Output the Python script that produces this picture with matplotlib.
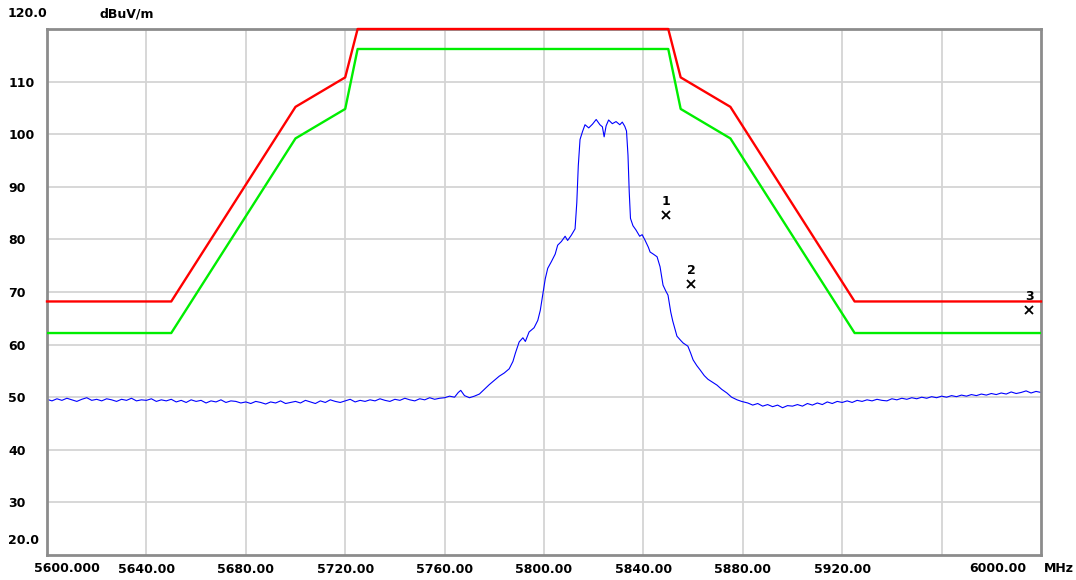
import numpy as np
import matplotlib
matplotlib.use("Agg")
import matplotlib.pyplot as plt
import matplotlib.transforms as mtransforms

# limit lines (dBuV/m)
limit_freq = [5600, 5650, 5700, 5720, 5725, 5850, 5855, 5875, 5925, 6000]
limit_peak = [68.2, 68.2, 105.2, 110.8, 122.2, 122.2, 110.8, 105.2, 68.2, 68.2]
limit_avg = [62.2, 62.2, 99.2, 104.8, 116.2, 116.2, 104.8, 99.2, 62.2, 62.2]

# measured trace, low side noise floor (2 MHz steps from 5600)
left_floor = [49.6, 49.3, 49.7, 49.4, 49.8, 49.5, 49.2, 49.6, 49.9, 49.4,
              49.6, 49.3, 49.7, 49.5, 49.2, 49.6, 49.4, 49.8, 49.3, 49.5,
              49.4, 49.7, 49.2, 49.5, 49.3, 49.6, 49.1, 49.4, 49.0, 49.5,
              49.2, 49.4, 48.9, 49.3, 49.1, 49.5, 49.0, 49.3, 49.2, 48.9,
              49.1, 48.8, 49.2, 49.0, 48.7, 49.1, 48.9, 49.3, 48.8, 49.0,
              49.2, 48.9, 49.4, 49.1, 48.8, 49.3, 49.0, 49.5, 49.2, 49.0,
              49.3, 49.6, 49.1, 49.4, 49.2, 49.5, 49.3, 49.7, 49.4, 49.2,
              49.6, 49.4, 49.8, 49.5, 49.3, 49.7, 49.5, 49.9, 49.6]

# measured trace, signal region
sig_freq = [5758, 5760, 5762, 5764, 5765.5, 5766.5, 5768, 5770, 5772, 5774,
            5776, 5778, 5780, 5782, 5784, 5786, 5787.5, 5788.5, 5790, 5791.5,
            5792.5, 5794, 5796, 5797.5, 5798.5, 5799.5, 5800.5, 5801.5, 5803, 5804.5,
            5805.5, 5807, 5808.5, 5809.5, 5811, 5812.5, 5813.2, 5813.8, 5814.5, 5815.5,
            5816.5, 5818, 5819.5, 5821, 5822.5, 5823.5, 5824.2, 5825, 5826, 5827.5,
            5829, 5830.5, 5831.5, 5832.5, 5833.2, 5833.8, 5834.3, 5834.8, 5835.8, 5837,
            5838.5, 5839.5, 5840.6, 5842, 5842.7, 5844, 5845.5, 5846.7, 5847.9, 5849.0,
            5849.9, 5851, 5851.8, 5853.5, 5855, 5856, 5857.9, 5859, 5860, 5861.5,
            5862.8, 5864.5, 5866, 5868, 5869.6, 5871.5, 5873.6, 5875.5, 5877.7, 5879.5]
sig_level = [49.8, 49.9, 50.2, 50.0, 50.9, 51.3, 50.3, 49.9, 50.2, 50.6,
             51.5, 52.4, 53.2, 54.0, 54.6, 55.4, 56.8, 58.4, 60.5, 61.3,
             60.6, 62.4, 63.2, 64.6, 66.5, 69.5, 72.5, 74.5, 75.8, 77.2,
             78.9, 79.6, 80.6, 79.8, 80.8, 82.0, 87.0, 94.0, 99.0, 100.5,
             101.8, 101.2, 101.9, 102.8, 101.8, 101.4, 99.5, 101.6, 102.7, 102.0,
             102.4, 101.8, 102.3, 101.5, 100.6, 96.0, 89.0, 84.0, 82.6, 81.8,
             80.6, 80.9, 79.9, 78.5, 77.6, 77.2, 76.7, 74.8, 71.3, 70.2,
             69.4, 66.2, 64.5, 61.6, 60.8, 60.3, 59.7, 58.4, 57.1, 56.0,
             55.2, 54.1, 53.4, 52.8, 52.3, 51.5, 50.8, 50.0, 49.5, 49.2]

# measured trace, high side noise floor (2 MHz steps from 5882)
right_floor = [48.9, 48.5, 48.8, 48.3, 48.6, 48.2, 48.5, 48.0, 48.4, 48.3,
               48.6, 48.3, 48.8, 48.5, 48.9, 48.6, 49.1, 48.8, 49.2, 49.0,
               49.3, 49.0, 49.4, 49.2, 49.5, 49.3, 49.6, 49.4, 49.3, 49.7,
               49.5, 49.8, 49.6, 49.9, 49.7, 50.0, 49.8, 50.1, 49.9, 50.2,
               50.0, 50.3, 50.1, 50.4, 50.2, 50.5, 50.3, 50.6, 50.4, 50.7,
               50.5, 50.8, 50.6, 51.0, 50.7, 50.9, 51.2, 50.8, 51.1, 50.9]

# markers
marker_no = ["1", "2", "3"]
marker_freq = [5849.2, 5859.2, 5995.2]
marker_level = [84.6, 71.5, 66.6]

ytick_vals = [30, 40, 50, 60, 70, 80, 90, 100, 110]
xtick_vals = [5640, 5680, 5720, 5760, 5800, 5840, 5880, 5920]
xgrid_vals = xtick_vals + [5960]

trace_freq = np.concatenate([5600 + 2 * np.arange(len(left_floor)), sig_freq,
                             5882 + 2 * np.arange(len(right_floor))])
trace_level = np.concatenate([left_floor, sig_level, right_floor])

fig = plt.figure(figsize=(10.76, 5.8), dpi=100)
ax = fig.add_axes([47 / 1076, 1 - 555 / 580, (1041 - 47) / 1076, (555 - 29) / 580])

ax.set_xlim(5600, 6000)
ax.set_ylim(20, 120)

for v in ytick_vals:
    ax.axhline(v, color="#d4d4d4", lw=1.3, zorder=0)
for v in xgrid_vals:
    ax.axvline(v, color="#d4d4d4", lw=1.3, zorder=0)

ax.plot(trace_freq, trace_level, color="#0000ff", lw=0.8, zorder=2)
ax.plot(limit_freq, limit_avg, color="#00ee00", lw=1.7, zorder=3)
ax.plot(limit_freq, np.minimum(limit_peak, 120), color="#ff0000", lw=1.7,
        zorder=4, clip_on=False)

for n, f, l in zip(marker_no, marker_freq, marker_level):
    ax.plot(f, l, marker="x", color="black", ms=6, mew=1.3, zorder=5)
    ax.annotate(n, (f, l), xytext=(0, 5), textcoords="offset points",
                ha="center", va="bottom", fontsize=9, fontweight="bold")

for s in ax.spines.values():
    s.set_color("#8c8c8c")
    s.set_linewidth(2)

ax.set_xticks(xtick_vals)
ax.set_xticklabels(["%.2f" % v for v in xtick_vals])
ax.set_yticks(ytick_vals)
ax.set_yticklabels([str(v) for v in ytick_vals], ha="left")
ax.tick_params(axis="x", length=0, pad=6, labelsize=9)
ax.tick_params(axis="y", length=0, pad=28, labelsize=9)
for lab in ax.get_xticklabels() + ax.get_yticklabels():
    lab.set_fontweight("bold")

# end labels drawn like the analyser does
ylab = mtransforms.blended_transform_factory(fig.transFigure, ax.transData)
ax.text(8 / 1076, 122.9, "120.0", transform=ylab, ha="left", va="center",
        fontsize=9, fontweight="bold")
ax.text(8 / 1076, 22.7, "20.0", transform=ylab, ha="left", va="center",
        fontsize=9, fontweight="bold")
ax.text(100 / 1076, 122.9, "dBuV/m", transform=ylab, ha="left", va="center",
        fontsize=9, fontweight="bold")

xlab = ax.get_xaxis_transform()
ax.text(5608, -0.025, "5600.000", transform=xlab, ha="center", va="center",
        fontsize=9, fontweight="bold")
ax.text(5982.7, -0.025, "6000.00", transform=xlab, ha="center", va="center",
        fontsize=9, fontweight="bold")
ax.text(6001, -0.025, "MHz", transform=xlab, ha="left", va="center",
        fontsize=9, fontweight="bold")

fig.savefig("out.png", dpi=100)
